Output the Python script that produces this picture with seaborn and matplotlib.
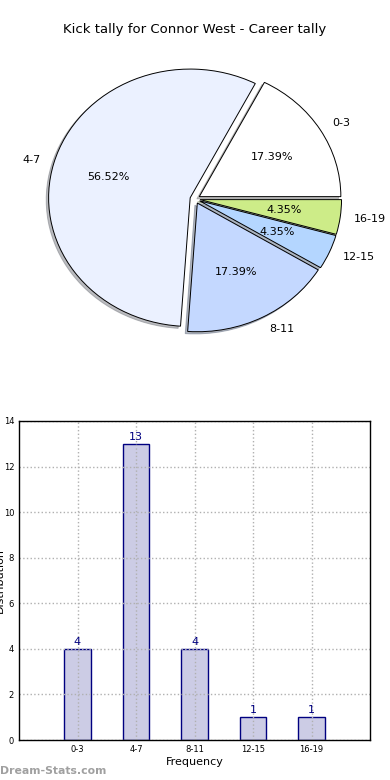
import matplotlib
matplotlib.use("Agg")
import matplotlib.pyplot as plt
import seaborn as sns

# kick tally ranges and counts
ranges = ["0-3", "4-7", "8-11", "12-15", "16-19"]
counts = [4, 13, 4, 1, 1]
pie_colors = ["#ffffff", "#ebf1ff", "#c4d8ff", "#b4d6ff", "#cdec88"]

sns.set_style("white")
plt.rcParams["font.family"] = ["DejaVu Sans"]
plt.rcParams["text.color"] = "black"
plt.rcParams["axes.labelcolor"] = "black"
plt.rcParams["xtick.color"] = "black"
plt.rcParams["ytick.color"] = "black"

fig = plt.figure(figsize=(3.9, 7.8), dpi=100)

# pie on top (slightly squashed, like the original)
ax1 = fig.add_axes([0.0, 431 / 780, 1.0, 300 / 780])
ax1.pie(counts, labels=ranges, colors=pie_colors, explode=[0.035] * 5,
        autopct="%.2f%%", shadow={"ox": -0.012, "oy": -0.012, "shade": 0.5},
        startangle=0, counterclock=True, radius=0.99,
        wedgeprops=dict(edgecolor="black", linewidth=0.7),
        textprops=dict(fontsize=8, color="black"))
ax1.set_aspect("auto")
ax1.set_xlim(-195 / 143, 195 / 143)
ax1.set_ylim(-150 / 130, 150 / 130)
ax1.axis("off")
fig.text(0.5, 1 - 30 / 780, "Kick tally for Connor West - Career tally",
         ha="center", va="center", fontsize=9.5)

# bar chart below
ax2 = fig.add_axes([19 / 390, 40 / 780, 351 / 390, 319 / 780])
sns.barplot(x=ranges, y=counts, ax=ax2, width=0.45, saturation=1,
            color="#ccccE5", edgecolor="navy", linewidth=1)
for i, v in enumerate(counts):
    ax2.text(i, v + 0.1, str(v), ha="center", va="bottom", color="navy", fontsize=8)
ax2.set_xlim(-1, 5)
ax2.set_ylim(0, 14)
ax2.set_yticks(range(0, 15, 2))
ax2.tick_params(labelsize=6, length=3, direction="in")
ax2.set_axisbelow(False)
ax2.grid(True, linestyle=":", color="#b0b0b0", linewidth=1)
for s in ax2.spines.values():
    s.set_color("black")
    s.set_linewidth(1)
    s.set_zorder(5)
ax2.set_xlabel("Frequency", fontsize=8, labelpad=2)
ax2.set_ylabel("")
fig.text(-0.012, 40 / 780 + 0.2045, "Distribution", rotation=90,
         ha="left", va="center", fontsize=8)

fig.text(0.0, 1 - 771 / 780, "Dream-Stats.com", ha="left", va="center",
         fontsize=7.8, color="#a0a0a0", fontweight="bold")

fig.savefig("out.png", dpi=100)
plt.close(fig)
